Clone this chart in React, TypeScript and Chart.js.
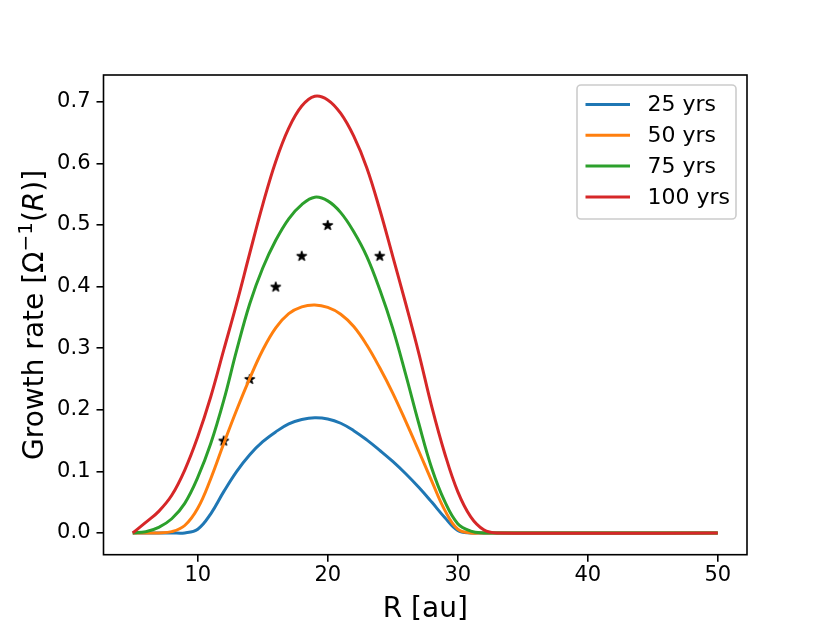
import { useEffect, useRef } from "react";
import { Chart, registerables } from "chart.js";

Chart.register(...registerables);

// radius grid (au) shared by the four curves
const radius = [5, 6, 7, 8, 9, 10, 11, 12, 13, 14, 15, 16, 17, 18, 19, 20, 21, 22, 23, 24, 25, 26, 27, 28, 29, 30, 31, 32, 33, 50];
const growth25 = [0, 0, 0, 0, 0, 0.006, 0.031, 0.067, 0.1, 0.127, 0.148, 0.164, 0.177, 0.184, 0.187, 0.185, 0.178, 0.166, 0.151, 0.134, 0.116, 0.096, 0.074, 0.05, 0.025, 0.004, 0, 0, 0, 0];
const growth50 = [0, 0, 0, 0.002, 0.012, 0.04, 0.088, 0.145, 0.2, 0.251, 0.297, 0.333, 0.356, 0.367, 0.37, 0.366, 0.355, 0.335, 0.305, 0.268, 0.227, 0.181, 0.133, 0.084, 0.037, 0.006, 0, 0, 0, 0];
const growth75 = [0, 0.002, 0.009, 0.023, 0.048, 0.09, 0.145, 0.215, 0.297, 0.372, 0.43, 0.475, 0.51, 0.533, 0.545, 0.539, 0.52, 0.489, 0.449, 0.395, 0.332, 0.257, 0.178, 0.105, 0.051, 0.015, 0.003, 0, 0, 0];
const growth100 = [0, 0.017, 0.035, 0.061, 0.102, 0.156, 0.221, 0.297, 0.373, 0.454, 0.533, 0.603, 0.657, 0.693, 0.709, 0.703, 0.681, 0.644, 0.593, 0.525, 0.449, 0.372, 0.292, 0.205, 0.129, 0.067, 0.026, 0.005, 0, 0];

// star markers
const starR = [12, 14, 16, 18, 20, 24];
const starGrowth = [0.15, 0.25, 0.4, 0.45, 0.5, 0.45];

const seriesLabels = ["25 yrs", "50 yrs", "75 yrs", "100 yrs"];
const seriesColors = ["#1f77b4", "#ff7f0e", "#2ca02c", "#d62728"];

const xTicks = [10, 20, 30, 40, 50];
const yTicks = [0, 0.1, 0.2, 0.3, 0.4, 0.5, 0.6, 0.7];

const FONT = '"DejaVu Sans"';

const makeStar = () => {
  const c = document.createElement("canvas");
  c.width = 14;
  c.height = 14;
  const g = c.getContext("2d")!;
  g.beginPath();
  for (let i = 0; i < 10; i++) {
    const r = i % 2 === 0 ? 5 : 5 * 0.382;
    const a = -Math.PI / 2 + (i * Math.PI) / 5;
    const px = 7 + r * Math.cos(a);
    const py = 7.5 + r * Math.sin(a);
    if (i === 0) g.moveTo(px, py);
    else g.lineTo(px, py);
  }
  g.closePath();
  g.fillStyle = "black";
  g.fill();
  g.lineWidth = 1.2;
  g.lineJoin = "round";
  g.strokeStyle = "black";
  g.stroke();
  return c;
};

// spines, axis titles and the matplotlib-like legend
const decorations = {
  id: "decorations",
  afterDatasetsDraw(chart: Chart) {
    const { ctx, chartArea } = chart;
    const { left, right, top, bottom } = chartArea;
    ctx.save();

    ctx.strokeStyle = "black";
    ctx.lineWidth = 1.6;
    ctx.strokeRect(left, top, right - left, bottom - top);

    // x title
    ctx.fillStyle = "black";
    ctx.font = `28px ${FONT}`;
    ctx.textAlign = "center";
    ctx.textBaseline = "alphabetic";
    ctx.fillText("R [au]", (left + right) / 2, 617);

    // y title with superscript and italic R
    const parts = [
      { t: "Growth rate [Ω", f: `28px ${FONT}`, dy: 0 },
      { t: "−1", f: `20px ${FONT}`, dy: -11 },
      { t: "(", f: `28px ${FONT}`, dy: 0 },
      { t: "R", f: `italic 28px ${FONT}`, dy: 0 },
      { t: ")]", f: `28px ${FONT}`, dy: 0 },
    ];
    let total = 0;
    const widths = parts.map((p) => {
      ctx.font = p.f;
      const w = ctx.measureText(p.t).width;
      total += w;
      return w;
    });
    ctx.translate(43, (top + bottom) / 2);
    ctx.rotate(-Math.PI / 2);
    ctx.textAlign = "left";
    let pos = -total / 2;
    parts.forEach((p, i) => {
      ctx.font = p.f;
      ctx.fillText(p.t, pos, p.dy);
      pos += widths[i];
    });
    ctx.setTransform(chart.currentDevicePixelRatio, 0, 0, chart.currentDevicePixelRatio, 0, 0);

    // legend
    const lw = 159;
    const lh = 134;
    const lx = right - 11 - lw;
    const ly = top + 10;
    ctx.beginPath();
    ctx.roundRect(lx, ly, lw, lh, 4);
    ctx.fillStyle = "rgba(255,255,255,0.8)";
    ctx.fill();
    ctx.strokeStyle = "#cccccc";
    ctx.lineWidth = 1.6;
    ctx.stroke();
    ctx.font = `22px ${FONT}`;
    ctx.textAlign = "left";
    ctx.textBaseline = "middle";
    seriesLabels.forEach((label, i) => {
      const cy = ly + 19.5 + i * 30.8;
      ctx.strokeStyle = seriesColors[i];
      ctx.lineWidth = 3;
      ctx.beginPath();
      ctx.moveTo(lx + 8.5, cy);
      ctx.lineTo(lx + 53, cy);
      ctx.stroke();
      ctx.fillStyle = "black";
      ctx.fillText(label, lx + 70.5, cy + 1);
    });
    ctx.restore();
  },
};

const App = () => {
  const canvasRef = useRef<HTMLCanvasElement | null>(null);

  useEffect(() => {
    document.body.style.margin = "0";
    if (!canvasRef.current) return;

    const curves = [growth25, growth50, growth75, growth100];
    const lineSets = curves.map((vals, i) => ({
      label: seriesLabels[i],
      data: radius.map((r, j) => ({ x: r, y: vals[j] })),
      borderColor: seriesColors[i],
      backgroundColor: seriesColors[i],
      borderWidth: 3,
      pointRadius: 0,
      tension: 0.4,
      fill: false,
      order: 4 - i,
    }));

    const chart = new Chart(canvasRef.current, {
      type: "line",
      data: {
        datasets: [
          ...lineSets,
          {
            label: "stars",
            data: starR.map((r, j) => ({ x: r, y: starGrowth[j] })),
            showLine: false,
            pointStyle: makeStar(),
            pointRadius: 5,
            borderColor: "black",
            backgroundColor: "black",
            order: 5,
          },
        ],
      },
      options: {
        responsive: false,
        animation: false,
        layout: { padding: { top: 75, right: 83, left: 0, bottom: 0 } },
        plugins: {
          legend: { display: false },
          tooltip: { enabled: false },
        },
        scales: {
          x: {
            type: "linear",
            min: 2.75,
            max: 52.25,
            afterBuildTicks: (scale: any) => {
              scale.ticks = xTicks.map((v) => ({ value: v }));
            },
            afterFit: (scale: any) => {
              scale.height = 68.3;
            },
            grid: {
              drawOnChartArea: false,
              tickLength: 7,
              color: "black",
              lineWidth: 1.6,
            },
            border: { display: false },
            ticks: {
              color: "black",
              font: { family: "DejaVu Sans", size: 21 },
              padding: 1,
              maxRotation: 0,
              callback: (v: any) => String(v),
            },
          },
          y: {
            type: "linear",
            min: -0.0354,
            max: 0.7434,
            afterBuildTicks: (scale: any) => {
              scale.ticks = yTicks.map((v) => ({ value: v }));
            },
            afterFit: (scale: any) => {
              scale.width = 103.5;
            },
            grid: {
              drawOnChartArea: false,
              tickLength: 7,
              color: "black",
              lineWidth: 1.6,
            },
            border: { display: false },
            ticks: {
              color: "black",
              font: { family: "DejaVu Sans", size: 21 },
              padding: 6,
              callback: (v: any) => Number(v).toFixed(1),
            },
          },
        },
      },
      plugins: [decorations],
    });

    return () => chart.destroy();
  }, []);

  return (
    <div style={{ position: "absolute", left: 0, top: 0, width: 830, height: 623 }}>
      <canvas ref={canvasRef} width={830} height={623} />
    </div>
  );
};

export default App;
